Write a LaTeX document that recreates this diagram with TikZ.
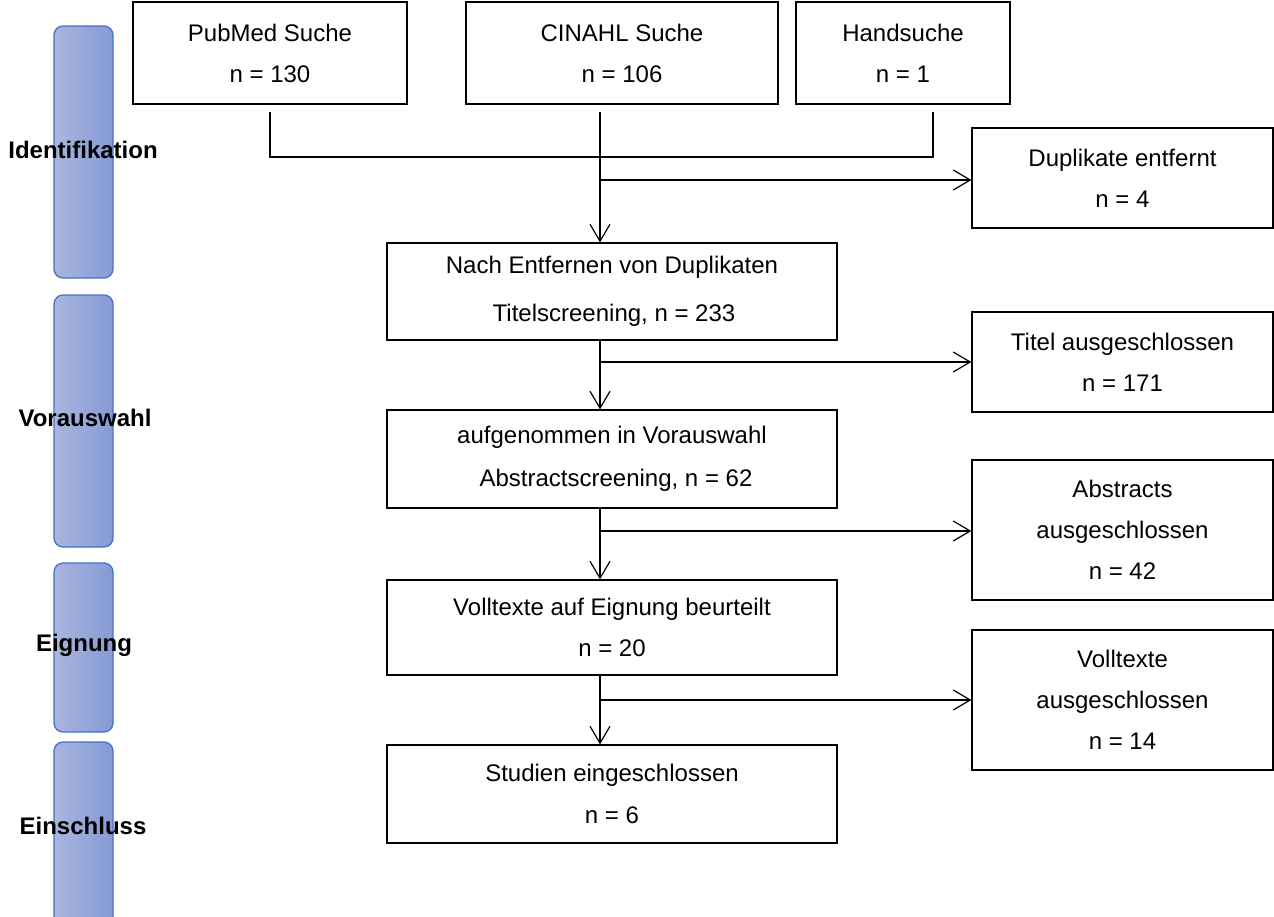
\documentclass[tikz,border=0pt]{standalone}
\usepackage{fontspec}
\setmainfont{Liberation Sans}
\usetikzlibrary{arrows.meta}
\definecolor{barborder}{HTML}{4472C4}
\definecolor{barleft}{HTML}{A9B7DF}
\definecolor{barright}{HTML}{8599D5}
\tikzset{
  box/.style={draw=black, line width=1.2pt, fill=white, align=center, inner sep=0pt,
    font=\fontsize{24}{41}\selectfont},
  phasebar/.style={draw=barborder, line width=1.3pt, rounded corners=9pt,
    left color=barleft, right color=barright, minimum width=59pt, inner sep=0pt},
  phaselabel/.style={font=\fontsize{24}{28}\selectfont\bfseries, inner sep=0pt},
  conn/.style={line width=1.2pt, black},
  arr/.style={conn, -{Straight Barb[length=17pt,width=20pt,line width=1.2pt]}}
}
\begin{document}
\begin{tikzpicture}[x=1pt,y=-1pt]
\useasboundingbox (0,0) rectangle (1274,916);
% phase bars
\node[phasebar, minimum height=252pt] (bar1) at (83.5,152) {};
\node[phasebar, minimum height=252pt] (bar2) at (83.5,421) {};
\node[phasebar, minimum height=169pt] (bar3) at (83.5,647.5) {};
\node[phasebar, minimum height=190pt] (bar4) at (83.5,837) {};
\node[phaselabel] (l1) at (83,150) {Identifikation};
\node[phaselabel] (l2) at (85,418) {Vorauswahl};
\node[phaselabel] (l3) at (84,645) {Eignung};
\node[phaselabel] (l4) at (83,826) {Einschluss};
% top boxes
\node[box, minimum width=274pt, minimum height=102pt] (pubmed) at (270,53) {PubMed Suche\\n = 130};
\node[box, minimum width=312pt, minimum height=102pt] (cinahl) at (622,53) {CINAHL Suche\\n = 106};
\node[box, minimum width=214pt, minimum height=102pt] (hand) at (903,53) {Handsuche\\n = 1};
% middle boxes
\node[box, minimum width=450pt, minimum height=97pt] (nach) at (612,291.5) {Nach Entfernen von Duplikaten\\[7pt]\hspace*{4pt}Titelscreening, n = 233};
\node[box, minimum width=450pt, minimum height=98pt] (auf) at (612,459) {aufgenommen in Vorauswahl\\[2pt]\hspace*{8pt}Abstractscreening, n = 62};
\node[box, minimum width=450pt, minimum height=95pt] (voll) at (612,627.5) {Volltexte auf Eignung beurteilt\\n = 20};
\node[box, minimum width=450pt, minimum height=98pt] (stud) at (612,794) {Studien eingeschlossen\\[1pt]n = 6};
% right boxes
\node[box, minimum width=301pt, minimum height=100pt] (dup) at (1122.5,178) {Duplikate entfernt\\n = 4};
\node[box, minimum width=301pt, minimum height=100pt] (titel) at (1122.5,362) {Titel ausgeschlossen\\n = 171};
\node[box, minimum width=301pt, minimum height=140pt] (abs) at (1122.5,530) {Abstracts\\ausgeschlossen\\n = 42};
\node[box, minimum width=301pt, minimum height=140pt] (vaus) at (1122.5,700) {Volltexte\\ausgeschlossen\\n = 14};
% connector points
\coordinate (jl) at (270,157);
\coordinate (jr) at (933,157);
\coordinate (m0) at (600,157);
\coordinate (b1) at (600,180);
\coordinate (b2) at (600,362);
\coordinate (b3) at (600,531);
\coordinate (b4) at (600,700);
% connectors
\draw[conn] ([yshift=-7pt]pubmed.south) -- (jl) -- (jr) -- ([xshift=30pt,yshift=-7pt]hand.south);
\draw[conn] ([xshift=-22pt,yshift=-7pt]cinahl.south) -- (m0);
\draw[arr] (m0) -- (nach.north -| m0);
\draw[arr] (b1) -- (dup.west |- b1);
\draw[arr] (nach.south -| b2) -- (auf.north -| b2);
\draw[arr] (b2) -- (titel.west |- b2);
\draw[arr] (auf.south -| b3) -- (voll.north -| b3);
\draw[arr] (b3) -- (abs.west |- b3);
\draw[arr] (voll.south -| b4) -- (stud.north -| b4);
\draw[arr] (b4) -- (vaus.west |- b4);
\end{tikzpicture}
\end{document}
